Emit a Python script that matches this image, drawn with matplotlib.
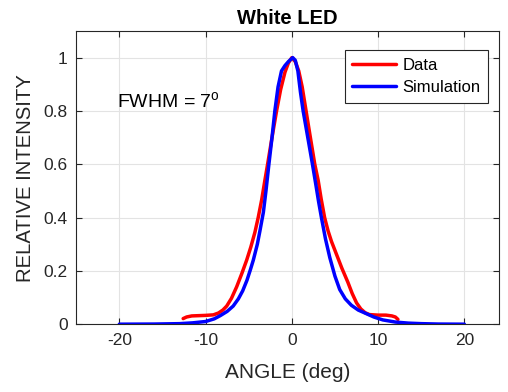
import numpy as np
import matplotlib
matplotlib.use('Agg')
import matplotlib.pyplot as plt

plt.rcParams['font.family'] = ['Liberation Sans', 'DejaVu Sans']
plt.rcParams['mathtext.fontset'] = 'custom'
plt.rcParams['mathtext.rm'] = 'Liberation Sans'
plt.rcParams['axes.unicode_minus'] = False

# measured curve (red)
data_angle = [-12.6, -12.2, -11.6, -10.8, -10.0, -9.1, -8.5, -8.0, -7.55, -7.0,
              -6.4, -5.8, -5.24, -4.75, -4.28, -3.9, -3.5, -3.15, -2.81, -2.3,
              -1.77, -1.3, -0.8, -0.4, 0.0,
              0.4, 0.8, 1.2, 1.6, 2.1, 2.66, 3.05, 3.4, 3.8, 4.2, 4.6, 5.2,
              5.8, 6.5, 7.0, 7.5, 8.0, 8.5, 9.0, 10.0, 10.9, 11.6, 12.0, 12.3]
data_int = [0.021, 0.027, 0.031, 0.032, 0.033, 0.035, 0.042, 0.053, 0.068, 0.097,
            0.14, 0.19, 0.24, 0.29, 0.345, 0.40, 0.466, 0.535, 0.60, 0.70,
            0.80, 0.88, 0.945, 0.98, 1.0,
            0.985, 0.95, 0.89, 0.81, 0.71, 0.60, 0.54, 0.47, 0.40, 0.35, 0.31, 0.26,
            0.21, 0.157, 0.115, 0.08, 0.057, 0.043, 0.036, 0.034, 0.034, 0.031, 0.027, 0.018]

# simulation (blue)
sim_angle = [-20, -16, -13, -11.5, -10, -9, -8.3, -7.5, -6.8, -6.2, -5.7, -5.2,
             -4.8, -4.47, -4.0, -3.7, -3.3, -3.0, -2.66, -2.3, -1.97, -1.6, -1.2,
             -0.8, -0.4, 0.1,
             0.4, 0.7, 1.0, 1.31, 1.85, 2.39, 2.8, 3.1, 3.43, 3.9, 4.4, 5.0,
             5.55, 6.2, 6.9, 7.7, 8.6, 9.5, 10.55, 12, 13.5, 15, 17, 20]
sim_int = [0.0, 0.0005, 0.002, 0.005, 0.010, 0.02, 0.032, 0.048, 0.068, 0.095, 0.125, 0.165,
           0.205, 0.24, 0.30, 0.35, 0.42, 0.50, 0.60, 0.70, 0.80, 0.89, 0.95,
           0.97, 0.985, 1.0,
           0.99, 0.95, 0.87, 0.80, 0.70, 0.60, 0.52, 0.46, 0.40, 0.32, 0.25, 0.18,
           0.13, 0.095, 0.071, 0.053, 0.04, 0.027, 0.016, 0.008, 0.004, 0.002, 0.0005, 0.0]

fig = plt.figure(figsize=(5.08, 3.92), dpi=100)
ax = fig.add_axes([0.15, 0.173, 0.832, 0.748])

ax.plot(data_angle, data_int, color='#ff0000', lw=2.5, label='Data',
        solid_joinstyle='round', solid_capstyle='round')
ax.plot(sim_angle, sim_int, color='#0000ff', lw=2.5, label='Simulation',
        solid_joinstyle='round', solid_capstyle='round')

ax.set_xlim(-25, 24)
ax.set_ylim(0, 1.1)
ax.set_xticks([-20, -10, 0, 10, 20])
ax.set_yticks([0, 0.2, 0.4, 0.6, 0.8, 1])
ax.set_yticklabels(['0', '0.2', '0.4', '0.6', '0.8', '1'])
ax.grid(True, color='#e3e3e3', lw=0.8)
ax.set_axisbelow(True)
ax.tick_params(direction='in', top=True, right=True, labelsize=12.5,
               colors='#262626', length=4, pad=6)
for s in ax.spines.values():
    s.set_color('#262626')

ax.set_title('White LED', fontsize=14.5, fontweight='bold', pad=5)
ax.set_xlabel('ANGLE (deg)', fontsize=15, color='#262626', labelpad=11)
ax.set_ylabel('RELATIVE INTENSITY', fontsize=14.6, color='#262626', labelpad=6)

ax.text(-20.3, 0.81, r'FWHM = 7$^{\mathrm{o}}$', fontsize=14, va='baseline')

leg = ax.legend(loc='upper right', bbox_to_anchor=(0.974, 0.935), fontsize=12,
                fancybox=False, edgecolor='#262626', framealpha=1,
                handlelength=2.6, borderpad=0.45, labelspacing=0.45,
                handletextpad=0.4, borderaxespad=0)
leg.get_frame().set_linewidth(0.8)

fig.savefig('out.png', dpi=100)
